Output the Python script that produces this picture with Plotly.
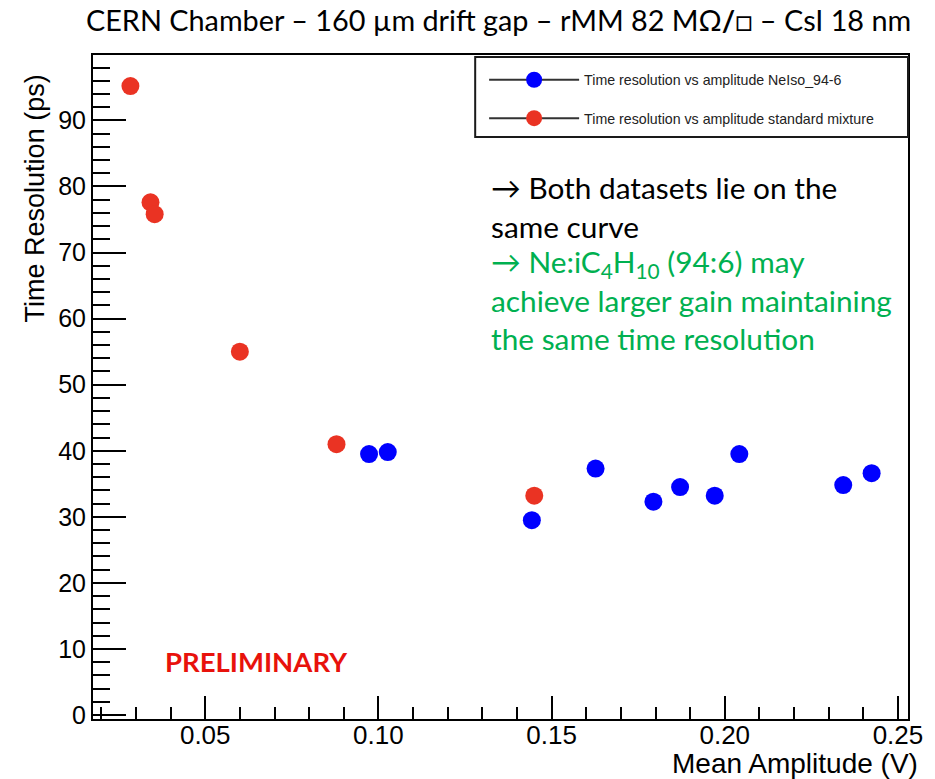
import plotly.graph_objects as go

# Time resolution vs mean amplitude, CsI photocathode, 160 um drift gap
amp_neiso = [0.0973, 0.1027, 0.1443, 0.1627, 0.1794, 0.1871, 0.1971, 0.2042, 0.2342, 0.2424]
res_neiso = [39.5, 39.8, 29.5, 37.3, 32.3, 34.5, 33.2, 39.5, 34.8, 36.6]

amp_std = [0.0284, 0.0342, 0.0354, 0.0600, 0.0879, 0.1450]
res_std = [95.2, 77.6, 75.8, 55.0, 41.0, 33.2]

legend_names = ["Time resolution vs amplitude NeIso_94-6",
                "Time resolution vs amplitude standard mixture"]
x_range = [0.0176, 0.2529]
y_range = [-0.6, 99.9]

BLUE = "#0000FF"
RED = "#EA3323"
GREEN = "#00B050"

W, H = 935, 779
L, R, T, B = 93, 21, 55, 60
PW, PH = W - L - R, H - T - B


def px(xp):
    return (xp - L) / PW


def py(yp):
    return (H - B - yp) / PH


fig = go.Figure()

fig.add_trace(go.Scatter(x=amp_neiso, y=res_neiso, mode="markers",
                         marker=dict(color=BLUE, size=18), showlegend=False))
fig.add_trace(go.Scatter(x=amp_std, y=res_std, mode="markers",
                         marker=dict(color=RED, size=18), showlegend=False))

# legend entries (line + marker, ROOT style)
for name, col, grp in [(legend_names[0], BLUE, "a"), (legend_names[1], RED, "b")]:
    fig.add_trace(go.Scatter(x=[None], y=[None], mode="lines+markers", name=name,
                             legendgroup=grp,
                             line=dict(color="#333333", width=2),
                             marker=dict(color=col, size=18)))

axis_font = dict(family="Liberation Sans, Arial", color="black")

fig.update_layout(
    width=W, height=H,
    margin=dict(l=L, r=R, t=T, b=B),
    paper_bgcolor="white", plot_bgcolor="white",
    showlegend=True,
    legend=dict(x=px(487), y=py(64), xanchor="left", yanchor="top",
                bgcolor="rgba(0,0,0,0)", borderwidth=0,
                itemwidth=90, tracegroupgap=17,
                font=dict(family="Liberation Sans, Arial", size=14.2, color="#222222")),
    xaxis=dict(range=x_range, showgrid=False, zeroline=False,
               showline=True, linecolor="black", linewidth=2, mirror=True,
               ticks="inside", ticklen=23, tickwidth=2, tickcolor="black",
               tick0=0.05, dtick=0.05, tickformat=".2f",
               ticklabelstandoff=-8,
               tickfont=dict(size=26, **axis_font),
               minor=dict(ticks="inside", ticklen=12, tickwidth=2, tickcolor="black",
                          dtick=0.01, tick0=0.0, showgrid=False)),
    yaxis=dict(range=y_range, showgrid=False, zeroline=False,
               showline=True, linecolor="black", linewidth=2, mirror=True,
               ticks="inside", ticklen=33, tickwidth=2, tickcolor="black",
               tick0=0, dtick=10, tickformat="d",
               tickfont=dict(size=25, **axis_font),
               minor=dict(ticks="inside", ticklen=17, tickwidth=2, tickcolor="black",
                          dtick=2, tick0=0, showgrid=False)),
)

# legend frame
fig.add_shape(type="rect", xref="paper", yref="paper",
              x0=px(478), x1=px(914), y0=py(137), y1=py(57),
              line=dict(color="#1a1a1a", width=2), fillcolor="rgba(0,0,0,0)", layer="above")

# axis titles
fig.add_annotation(text="Mean Amplitude (V)", xref="paper", yref="paper",
                   x=px(926), y=py(763), xanchor="right", yanchor="middle",
                   showarrow=False, font=dict(size=28, **axis_font))
fig.add_annotation(text="Time Resolution (ps)", xref="paper", yref="paper",
                   x=px(35), y=py(198), xanchor="center", yanchor="middle", textangle=-90,
                   showarrow=False, font=dict(size=27, **axis_font))

# chart title
fig.add_annotation(text="CERN Chamber – 160 µm drift gap – rMM 82 MΩ<b>/</b>□ – CsI 18 nm",
                   xref="paper", yref="paper", x=px(501), y=py(20),
                   xanchor="center", yanchor="middle", showarrow=False,
                   font=dict(family="Lato", size=28.8, color="black"))

# comment text block
lines = [
    ("→ Both datasets lie on the", "black", 187),
    ("same curve", "black", 226),
    ("→ Ne:iC<sub>4</sub>H<sub>10</sub> (94:6) may", GREEN, 263),
    ("achieve larger gain maintaining", GREEN, 300),
    ("the same time resolution", GREEN, 338),
]
for txt, col, yc in lines:
    fig.add_annotation(text=txt, xref="paper", yref="paper", x=px(492), y=py(yc),
                       xanchor="left", yanchor="middle", showarrow=False,
                       font=dict(family="Lato", size=29.8, color=col))

fig.add_annotation(text="<b>PRELIMINARY</b>", xref="paper", yref="paper",
                   x=px(164), y=py(661), xanchor="left", yanchor="middle", showarrow=False,
                   font=dict(family="Lato", size=27.5, color="#E8120C"))

fig.write_html("out.html")
